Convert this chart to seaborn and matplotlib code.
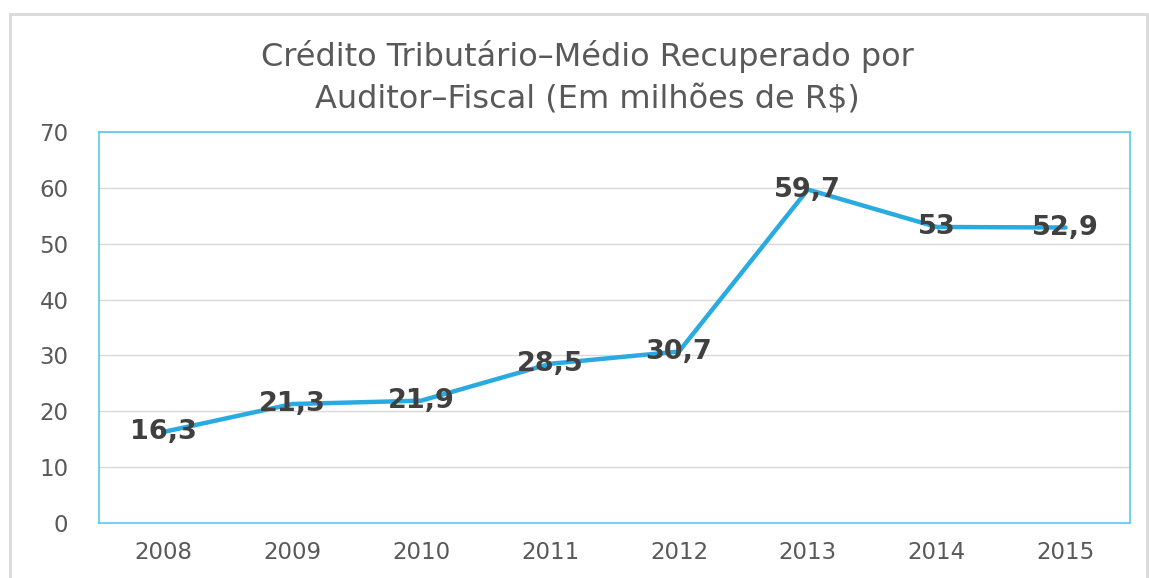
import matplotlib
matplotlib.use("Agg")
import matplotlib.pyplot as plt
import seaborn as sns
import pandas as pd
from matplotlib.patches import Rectangle

years = ["2008", "2009", "2010", "2011", "2012", "2013", "2014", "2015"]
values = [16.3, 21.3, 21.9, 28.5, 30.7, 59.7, 53.0, 52.9]
labels = ["16,3", "21,3", "21,9", "28,5", "30,7", "59,7", "53", "52,9"]
yticks = [0, 10, 20, 30, 40, 50, 60, 70]
title = "Crédito Tributário–Médio Recuperado por\nAuditor–Fiscal (Em milhões de R$)"

sns.set_theme(style="white")
plt.rcParams['font.family'] = ['DejaVu Sans']

W, H = 1149, 578
fig = plt.figure(figsize=(W / 100, H / 100), dpi=100)
ax = fig.add_axes([99 / W, 1 - 523 / H, (1130 - 99) / W, (523 - 132) / H])

df = pd.DataFrame({"year": years, "value": values})
x = list(range(len(years)))
sns.lineplot(x=x, y=df["value"], ax=ax, color="#29ABE2", linewidth=3.2)

ax.set_xlim(-0.5, len(years) - 0.5)
ax.set_ylim(0, 70)
ax.set_xticks(x)
ax.set_xticklabels(years)
ax.set_yticks(yticks)
ax.set_yticklabels([str(t) for t in yticks])
ax.tick_params(axis="both", length=0, labelsize=16.5, colors="#595959")
ax.tick_params(axis="x", pad=13)
ax.tick_params(axis="y", pad=22)
ax.set_xlabel("")
ax.set_ylabel("")
ax.grid(axis="y", color="#D9D9D9", linewidth=1)
ax.grid(axis="x", visible=False)
for s in ax.spines.values():
    s.set_color("#5BC8EE")
    s.set_linewidth(1.2)

for xi, v, lab in zip(x, values, labels):
    ax.text(xi, v, lab, ha="center", va="center", fontsize=19.5,
            fontweight="bold", color="#404040")

fig.text(587 / W, 1 - 77 / H, title, ha="center", va="center",
         fontsize=23, color="#595959", linespacing=1.45)

fig.patches.append(Rectangle((9.5 / W, -0.1), (1147 - 9.5) / W, 1.1 - 14 / H,
                             transform=fig.transFigure, fill=False,
                             edgecolor="#D9D9D9", linewidth=2))

fig.savefig("out.png", dpi=100)
